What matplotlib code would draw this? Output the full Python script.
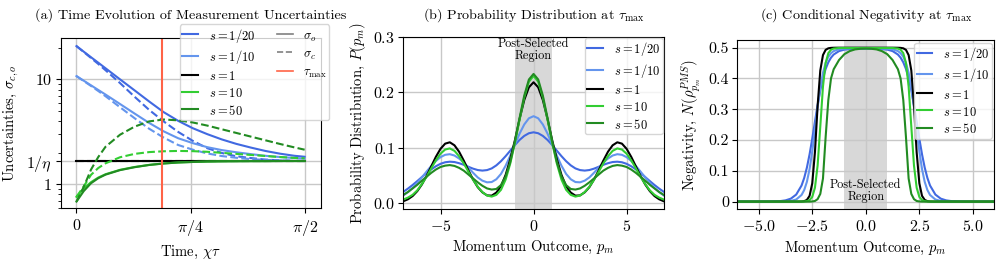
import numpy as np
import matplotlib
matplotlib.use("Agg")
import matplotlib.pyplot as plt
from matplotlib.lines import Line2D
from matplotlib.ticker import NullFormatter

plt.rcParams.update({
    'font.family': 'serif',
    'font.serif': ['cmr10'],
    'mathtext.fontset': 'cm',
    'axes.formatter.use_mathtext': True,
    'axes.unicode_minus': True,
    'font.size': 10,
    'xtick.labelsize': 11.5,
    'ytick.labelsize': 11.5,
    'ytick.major.pad': 2.5,
    'axes.labelsize': 10.5,
})

# ---------------- data ----------------
labels_s = ['$s = 1/20$', '$s = 1/10$', '$s = 1$', '$s = 10$', '$s = 50$']
colors_s = ['royalblue', 'cornflowerblue', 'black', 'limegreen', 'forestgreen']
eta_inv = 1.667
tau_max = 0.587

# panel (a): time grid and uncertainties
t_a = [0, 0.05, 0.1, 0.15, 0.2, 0.3, 0.4, 0.5, 0.6, 0.7, 0.8, 0.9, 1.0, 1.1, 1.2, 1.3, 1.4, 1.5, 1.5708]
sig_o_s20 = [20.80, 18.41, 16.29, 14.45, 12.79, 10.02, 7.87, 6.17, 4.88, 4.03, 3.43, 3.01, 2.68, 2.43, 2.24, 2.08, 1.96, 1.87, 1.83]
sig_c_s20 = [20.80, 18.28, 16.03, 14.06, 12.25, 9.23, 6.84, 5.13, 3.98, 3.16, 2.60, 2.21, 1.99, 1.85, 1.78, 1.72, 1.69, 1.67, 1.667]
sig_o_s10 = [10.76, 9.73, 8.79, 7.94, 7.18, 5.83, 4.73, 3.85, 3.20, 2.75, 2.47, 2.26, 2.12, 2.02, 1.94, 1.87, 1.82, 1.78, 1.76]
sig_c_s10 = [10.76, 9.66, 8.67, 7.76, 6.92, 5.43, 4.27, 3.39, 2.79, 2.37, 2.14, 1.97, 1.86, 1.79, 1.74, 1.71, 1.69, 1.67, 1.667]
sig_o_s1 = [1.667] * 19
sig_c_s1 = [1.667] * 19
sig_o_10 = [0.759, 0.912, 1.047, 1.159, 1.247, 1.374, 1.462, 1.531, 1.581, 1.614, 1.633, 1.648, 1.656, 1.660, 1.663, 1.663, 1.667, 1.667, 1.667]
sig_c_10 = [0.759, 0.955, 1.230, 1.429, 1.585, 1.811, 1.950, 2.028, 2.065, 2.080, 2.070, 2.042, 1.995, 1.950, 1.905, 1.862, 1.820, 1.786, 1.770]
sig_o_50 = [0.684, 0.861, 1.023, 1.143, 1.236, 1.365, 1.455, 1.528, 1.578, 1.614, 1.633, 1.648, 1.656, 1.660, 1.663, 1.663, 1.667, 1.667, 1.667]
sig_c_50 = [0.684, 0.944, 1.380, 1.820, 2.280, 2.972, 3.548, 3.981, 4.150, 4.074, 3.890, 3.631, 3.350, 3.090, 2.851, 2.630, 2.427, 2.249, 2.138]

# panel (b): probability distribution (p >= 0, symmetric)
p_b_half = [0, 0.25, 0.5, 0.75, 1.0, 1.25, 1.5, 1.75, 2.0, 2.25, 2.5, 2.75, 3.0, 3.25, 3.5, 3.75,
            4.0, 4.25, 4.5, 4.75, 5.0, 5.25, 5.5, 5.75, 6.0, 6.25, 6.5, 6.75, 7.0]
P_s20 = [0.128, 0.1263, 0.1215, 0.1143, 0.1052, 0.095, 0.0851, 0.076, 0.0685, 0.063, 0.060, 0.0591, 0.0601, 0.0626, 0.0659,
         0.0695, 0.0724, 0.0745, 0.0751, 0.0741, 0.0713, 0.0669, 0.0612, 0.0546, 0.0475, 0.0402, 0.0332, 0.0267, 0.0209]
P_s10 = [0.157, 0.1532, 0.1421, 0.1257, 0.1061, 0.0861, 0.0679, 0.0531, 0.0435, 0.0385, 0.038, 0.041, 0.0468, 0.0552, 0.0645,
         0.0735, 0.0808, 0.0862, 0.0886, 0.0875, 0.0833, 0.0764, 0.0674, 0.0573, 0.0469, 0.0369, 0.028, 0.0204, 0.0144]
P_1 = [0.218, 0.209, 0.186, 0.152, 0.114, 0.080, 0.0515, 0.031, 0.0195, 0.014, 0.0145, 0.020, 0.0293, 0.043, 0.0596,
       0.077, 0.093, 0.1046, 0.110, 0.1076, 0.0983, 0.0838, 0.0666, 0.0494, 0.0342, 0.0221, 0.0133, 0.0075, 0.0039]
P_10 = [0.2295, 0.219, 0.1905, 0.151, 0.109, 0.072, 0.043, 0.0245, 0.0154, 0.0123, 0.0143, 0.0204, 0.030, 0.0425, 0.057,
        0.072, 0.085, 0.0946, 0.099, 0.097, 0.0895, 0.0775, 0.063, 0.048, 0.035, 0.0235, 0.0155, 0.0105, 0.007]
P_50 = [0.233, 0.223, 0.194, 0.154, 0.112, 0.075, 0.0485, 0.033, 0.026, 0.025, 0.027, 0.0318, 0.038, 0.045, 0.052,
        0.059, 0.064, 0.0675, 0.069, 0.068, 0.0656, 0.061, 0.055, 0.048, 0.041, 0.0335, 0.027, 0.0206, 0.0154]

# panel (c): negativity (p >= 0, symmetric)
p_c_half = [0, 0.25, 0.5, 0.75, 1.0, 1.25, 1.5, 1.625, 1.75, 1.875, 2.0, 2.125, 2.25, 2.375, 2.5, 2.625,
            2.75, 2.875, 3.0, 3.25, 3.5, 3.75, 4.0, 4.5, 5.0, 6.0]
N_s20 = [0.497, 0.497, 0.4965, 0.4956, 0.4937, 0.489, 0.4778, 0.4676, 0.4526, 0.431, 0.4008, 0.3616, 0.3136, 0.2595,
         0.2046, 0.1537, 0.1107, 0.0771, 0.0522, 0.0228, 0.0096, 0.004, 0.0016, 0.0003, 0.0, 0.0]
N_s10 = [0.4975, 0.4975, 0.4974, 0.4972, 0.4967, 0.4949, 0.489, 0.4822, 0.4705, 0.4506, 0.4184, 0.3706, 0.307, 0.234,
         0.1636, 0.1058, 0.0644, 0.0377, 0.0215, 0.0068, 0.0021, 0.0006, 0.0002, 0.0, 0.0, 0.0]
N_1 = [0.5, 0.5, 0.5, 0.5, 0.5, 0.5, 0.4998, 0.4994, 0.498, 0.493, 0.476, 0.426, 0.311, 0.160,
       0.0596, 0.0187, 0.0055, 0.0016, 0.0005, 0.0, 0.0, 0.0, 0.0, 0.0, 0.0, 0.0]
N_10 = [0.499, 0.499, 0.499, 0.499, 0.499, 0.499, 0.4972, 0.4935, 0.4823, 0.4504, 0.3735, 0.2439, 0.1171, 0.045,
        0.0153, 0.005, 0.0016, 0.0005, 0.0002, 0.0, 0.0, 0.0, 0.0, 0.0, 0.0, 0.0]
N_50 = [0.497, 0.4965, 0.4945, 0.489, 0.479, 0.46, 0.43, 0.40, 0.33, 0.21, 0.075, 0.025, 0.008, 0.002,
        0.0005, 0.0, 0.0, 0.0, 0.0, 0.0, 0.0, 0.0, 0.0, 0.0, 0.0, 0.0]


def mirror(xh, yh):
    xh = np.asarray(xh, float)
    yh = np.asarray(yh, float)
    return np.concatenate([-xh[:0:-1], xh]), np.concatenate([yh[:0:-1], yh])


# ---------------- figure ----------------
W, H = 997, 260
fig = plt.figure(figsize=(W / 100, H / 100), dpi=100)


def box(l, r, t, b):
    return [l / W, (H - b) / H, (r - l) / W, (b - t) / H]


ax_a = fig.add_axes(box(60.5, 320.5, 38.3, 208.3))
ax_b = fig.add_axes(box(403.3, 663.8, 36.7, 209.0))
ax_c = fig.add_axes(box(737.3, 994.3, 40.0, 209.3))

grid_kw = dict(color='#c8c8c8', lw=1.0)
LW = 1.5
TFS = 10.2
leg_kw = dict(fontsize=9.0, handlelength=1.27, handleheight=1.2, labelspacing=0.28,
              handletextpad=0.83, borderpad=0.2)

# ---- (a)
sig_o = [sig_o_s20, sig_o_s10, sig_o_s1, sig_o_10, sig_o_50]
sig_c = [sig_c_s20, sig_c_s10, sig_c_s1, sig_c_10, sig_c_50]
for so, sc, col in zip(sig_o, sig_c, colors_s):
    ax_a.plot(t_a, so, color=col, lw=LW, ls='-')
    ax_a.plot(t_a, sc, color=col, lw=LW, ls='--')
ax_a.axvline(tau_max, color='tomato', lw=LW)
ax_a.set_yscale('log')
ax_a.set_ylim(0.59, 24.7)
ax_a.set_xlim(-0.11, 1.68)
ax_a.set_yticks([1, eta_inv, 10], ['$1$', '$1/\\eta$', '$10$'])
ax_a.yaxis.set_minor_formatter(NullFormatter())
ax_a.set_xticks([0, np.pi / 4, np.pi / 2], ['$0$', '$\\pi/4$', '$\\pi/2$'])
ax_a.grid(True, which='major', **grid_kw)
ax_a.set_xlabel('Time, $\\chi\\tau$')
ax_a.set_ylabel('Uncertainties, $\\sigma_{c,o}$')
ax_a.set_title('(a) Time Evolution of Measurement Uncertainties', fontsize=TFS, pad=14.3)

handles = [Line2D([], [], color=c, lw=LW) for c in colors_s]
handles += [Line2D([], [], color='gray', lw=1.2, ls='-'),
            Line2D([], [], color='gray', lw=1.2, ls='--'),
            Line2D([], [], color='tomato', lw=1.2),
            Line2D([], [], ls='none'), Line2D([], [], ls='none')]
lab = labels_s + ['$\\sigma_o$', '$\\sigma_c$', '$\\tau_{\\max}$', '', '']
leg_a = ax_a.legend(handles, lab, ncol=2, loc='upper left', bbox_to_anchor=(0.4596, 1.084),
                    borderaxespad=0, columnspacing=1.75, **leg_kw)
leg_a.set_zorder(5)

# ---- (b)
P_all = [P_s20, P_s10, P_1, P_10, P_50]
for P, col, lb in zip(P_all, colors_s, labels_s):
    x, y = mirror(p_b_half, P)
    ax_b.plot(x, y, color=col, lw=LW, label=lb)
ax_b.axvspan(-1, 1, color='gray', alpha=0.3, lw=0)
ax_b.set_xlim(-7, 7)
ax_b.set_ylim(-0.01, 0.3)
ax_b.set_yticks([0.0, 0.1, 0.2, 0.3])
ax_b.set_xticks([-5, 0, 5])
ax_b.grid(True, **grid_kw)
ax_b.text(0, 0.297, 'Post-Selected\nRegion', ha='center', va='top', fontsize=8.8,
          linespacing=0.95)
ax_b.set_xlabel('Momentum Outcome, $p_m$')
ax_b.set_ylabel('Probability Distribution, $P(p_m)$')
ax_b.set_title('(b) Probability Distribution at $\\tau_{\\max}$', fontsize=TFS, pad=13.1)
ax_b.legend(loc='upper right', borderaxespad=0.1, **leg_kw)

# ---- (c)
N_all = [N_s20, N_s10, N_1, N_10, N_50]
for N, col, lb in zip(N_all, colors_s, labels_s):
    x, y = mirror(p_c_half, N)
    ax_c.plot(x, y, color=col, lw=LW, label=lb)
ax_c.axvspan(-1, 1, color='gray', alpha=0.3, lw=0)
ax_c.set_xlim(-6, 6)
ax_c.set_ylim(-0.025, 0.525)
ax_c.set_yticks([0, 0.1, 0.2, 0.3, 0.4, 0.5], ['0', '0.1', '0.2', '0.3', '0.4', '0.5'])
ax_c.set_xticks([-5, -2.5, 0, 2.5, 5])
ax_c.grid(True, **grid_kw)
ax_c.text(0, 0.035, 'Post-Selected\nRegion', ha='center', va='center', fontsize=8.8,
          linespacing=0.95)
ax_c.set_xlabel('Momentum Outcome, $p_m$')
ax_c.set_ylabel('Negativity, $N(\\rho_{p_m}^{PMS})$')
ax_c.set_title('(c) Conditional Negativity at $\\tau_{\\max}$', fontsize=TFS, pad=15.5)
ax_c.legend(loc='upper right', borderaxespad=0.2, **leg_kw)

fig.savefig('out.png', dpi=100)
